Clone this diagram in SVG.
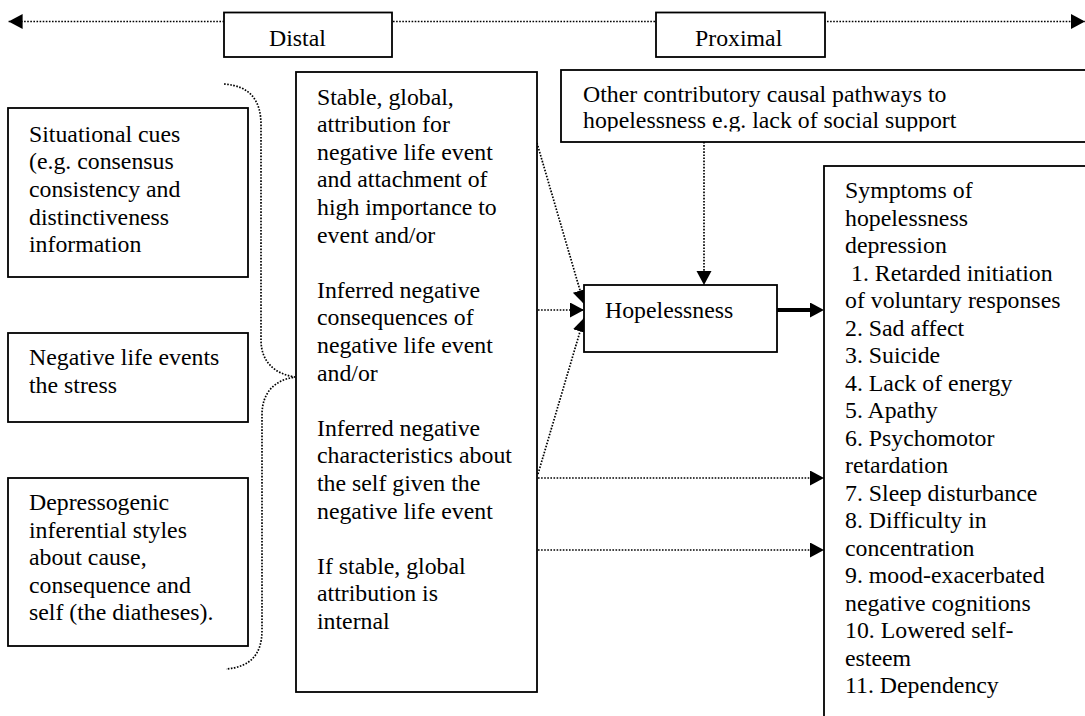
<svg xmlns="http://www.w3.org/2000/svg" width="1085" height="716" viewBox="0 0 1085 716">
<style>
  text { font-family: "Liberation Serif", "Times New Roman", serif; font-size: 23.8px; fill: #000; }
  .box { fill: #fff; stroke: #000; stroke-width: 1.8; }
  .dot { fill: none; stroke: #000; stroke-width: 1.7; stroke-dasharray: 1.6 1.5; }
  .thick { fill: none; stroke: #000; stroke-width: 4; }
</style>
<defs>
  <marker id="ah" markerUnits="userSpaceOnUse" markerWidth="15" markerHeight="16" refX="14" refY="7.5" orient="auto-start-reverse" viewBox="0 0 15 16">
    <path d="M0,0 L14,7.5 L0,15 z" fill="#000" stroke="none"/>
  </marker>
  <clipPath id="otherClip"><rect x="561" y="70" width="530" height="61.5"/></clipPath>
</defs>

<g id="connectors">
  <path class="dot" d="M8.6,21.5 L1085,21.5" marker-start="url(#ah)" marker-end="url(#ah)"/>
  <path class="dot" d="M224,84 C250,86 261,100 261,125 L261,340 C261,362 275,374 295,377 C275,380 262,392 262,415 L262,630 C262,655 250,667 226,669"/>
  <path class="dot" d="M537,143 L584,304" marker-end="url(#ah)"/>
  <path class="dot" d="M538,310 L584,310" marker-end="url(#ah)"/>
  <path class="dot" d="M538,474 L584,318" marker-end="url(#ah)"/>
  <path class="dot" d="M538,478 L824,478" marker-end="url(#ah)"/>
  <path class="dot" d="M538,550 L824,550" marker-end="url(#ah)"/>
  <path class="dot" d="M704,142 L704,285" marker-end="url(#ah)"/>
  <path class="thick" d="M777,310 L812,310"/>
  <path d="M777,310 L824,310" stroke="none" fill="none" marker-end="url(#ah)"/>
</g>

<g id="distal">
  <rect class="box" x="224" y="12.5" width="168" height="44.5"/>
  <text x="269" y="45.5">Distal</text>
</g>

<g id="proximal">
  <rect class="box" x="656" y="12.5" width="169" height="44.5"/>
  <text x="695" y="45.5">Proximal</text>
</g>

<g id="situational">
  <rect class="box" x="8" y="108" width="240" height="169"/>
  <text x="29" y="141.7">Situational cues</text>
  <text x="29" y="169.3">(e.g. consensus</text>
  <text x="29" y="196.9">consistency and</text>
  <text x="29" y="224.5">distinctiveness</text>
  <text x="29" y="252.1">information</text>
</g>

<g id="negative-events">
  <rect class="box" x="8" y="333" width="240" height="89"/>
  <text x="29" y="365">Negative life events</text>
  <text x="29" y="392.6">the stress</text>
</g>

<g id="depressogenic">
  <rect class="box" x="8" y="478" width="240" height="168"/>
  <text x="29" y="510">Depressogenic</text>
  <text x="29" y="537.5">inferential styles</text>
  <text x="29" y="565">about cause,</text>
  <text x="29" y="592.5">consequence and</text>
  <text x="29" y="620">self (the diatheses).</text>
</g>

<g id="attributions">
  <rect class="box" x="296" y="72" width="241" height="620"/>
  <text x="317" y="104.5">Stable, global,</text>
  <text x="317" y="132.1">attribution for</text>
  <text x="317" y="159.7">negative life event</text>
  <text x="317" y="187.3">and attachment of</text>
  <text x="317" y="214.9">high importance to</text>
  <text x="317" y="242.5">event and/or</text>
  <text x="317" y="297.7">Inferred negative</text>
  <text x="317" y="325.3">consequences of</text>
  <text x="317" y="352.9">negative life event</text>
  <text x="317" y="380.5">and/or</text>
  <text x="317" y="435.7">Inferred negative</text>
  <text x="317" y="463.3">characteristics about</text>
  <text x="317" y="490.9">the self given the</text>
  <text x="317" y="518.5">negative life event</text>
  <text x="317" y="573.7">If stable, global</text>
  <text x="317" y="601.3">attribution is</text>
  <text x="317" y="628.9">internal</text>
</g>

<g id="other-pathways">
  <rect class="box" x="561" y="70" width="540" height="72"/>
  <g clip-path="url(#otherClip)">
    <text x="583" y="101.7">Other contributory causal pathways to</text>
    <text x="583" y="128.3">hopelessness e.g. lack of social support</text>
  </g>
</g>

<g id="hopelessness">
  <rect class="box" x="584" y="285" width="193" height="67"/>
  <text x="605" y="318">Hopelessness</text>
</g>

<g id="symptoms">
  <rect class="box" x="824" y="166" width="280" height="570"/>
  <text x="845" y="198">Symptoms of</text>
  <text x="845" y="225.5">hopelessness</text>
  <text x="845" y="253">depression</text>
  <text x="851" y="280.5">1. Retarded initiation</text>
  <text x="845" y="308">of voluntary responses</text>
  <text x="845" y="335.5">2. Sad affect</text>
  <text x="845" y="363">3. Suicide</text>
  <text x="845" y="390.5">4. Lack of energy</text>
  <text x="845" y="418">5. Apathy</text>
  <text x="845" y="445.5">6. Psychomotor</text>
  <text x="845" y="473">retardation</text>
  <text x="845" y="500.5">7. Sleep disturbance</text>
  <text x="845" y="528">8. Difficulty in</text>
  <text x="845" y="555.5">concentration</text>
  <text x="845" y="583">9. mood-exacerbated</text>
  <text x="845" y="610.5">negative cognitions</text>
  <text x="845" y="638">10. Lowered self-</text>
  <text x="845" y="665.5">esteem</text>
  <text x="845" y="693">11. Dependency</text>
</g>
</svg>
